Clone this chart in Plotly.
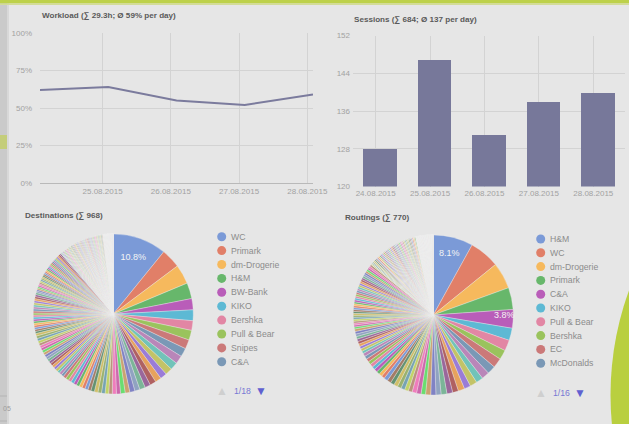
import plotly.graph_objects as go

W, H = 629, 424

# ---- daily series (data points are stamped 02:00 local time) ----
days = ["2015-08-24 02:00", "2015-08-25 02:00", "2015-08-26 02:00",
        "2015-08-27 02:00", "2015-08-28 02:00"]
workload_pct = [62, 64, 55, 52, 59]
workload_ticks = [0, 25, 50, 75, 100]
workload_tick_text = ["0%", "25%", "50%", "75%", "100%"]
sessions = [128, 147, 131, 138, 140]

# ---- destinations (sum 968) ----
dest_names = ["WC", "Primark", "dm-Drogerie", "H&M", "BW-Bank",
              "KIKO", "Bershka", "Pull & Bear", "Snipes", "C&A"]
dest_counts = [
    105, 38, 38, 31, 22, 21, 19, 19, 18, 17,
    16, 15, 14, 13, 12, 12, 11, 11, 10, 10,
    9, 9, 8, 8, 7, 7, 7, 7, 7, 7,
    6, 6, 6, 6, 6, 6, 6, 6, 6, 6,
    5, 5, 5, 5, 5, 5, 5, 5, 5, 5,
    5, 5, 5, 5, 5, 5, 5, 5, 5, 5,
    4, 4, 4, 4, 4, 4, 4, 4, 4, 4,
    4, 4, 4, 4, 4, 4, 4, 4, 4, 4,
    3, 3, 3, 3, 3, 3, 3, 3, 3, 3,
    3, 3, 3, 3, 3, 3, 3, 3, 3, 3,
    3, 3, 3, 3, 3, 3, 3, 3, 3, 3,
    2, 2, 2, 2, 2, 2, 2, 2, 2, 2,
    2, 2, 2, 2, 2, 2, 2, 2, 2, 2,
    2, 2, 2, 2, 2, 2, 2, 2, 2, 2,
    2, 2, 2, 2, 2, 2, 2, 2, 2, 2,
    2, 2, 2, 2, 2, 1, 1, 1, 1, 1,
    1, 1, 1, 1, 1, 1, 1, 1, 1, 1,
    1, 1, 1, 1, 1,
]
dest_pages = "1/18"

# ---- routings (sum 770) ----
route_names = ["H&M", "WC", "dm-Drogerie", "Primark", "C&A",
               "KIKO", "Pull & Bear", "Bershka", "EC", "McDonalds"]
route_counts = [
    62, 47, 41, 34, 29, 19, 17, 15, 15, 13,
    12, 11, 11, 10, 10, 9, 9, 9, 8, 8,
    8, 7, 7, 7, 6, 6, 6, 6, 6, 6,
    6, 6, 5, 5, 5, 5, 5, 5, 5, 5,
    5, 5, 4, 4, 4, 4, 4, 4, 4, 4,
    4, 4, 3, 3, 3, 3, 3, 3, 3, 3,
    3, 3, 3, 3, 3, 3, 3, 3, 3, 3,
    3, 3, 3, 3, 3, 3, 3, 3, 3, 3,
    3, 3, 3, 3, 3, 3, 3, 2, 2, 2,
    2, 2, 2, 2, 2, 2, 2, 2, 2, 2,
    2, 2, 2, 2, 2, 2, 2, 2, 2, 2,
    2, 2, 2, 2, 2, 2, 2, 2, 2, 2,
    2, 2, 2, 2, 2, 2, 2, 2, 1, 1,
    1, 1, 1, 1, 1, 1, 1, 1, 1, 1,
    1, 1, 1, 1, 1, 1, 1, 1, 1, 1,
    1, 1, 1, 1, 1,
]
route_pages = "1/16"

# washed-out chart palette
PALETTE = ["#7b9ad7", "#e17f68", "#f6b95d", "#67b76b", "#b95db9", "#5db9d4",
           "#e286a4", "#9ac35d", "#cb7979", "#7a98b6", "#b986b9", "#71c3b9",
           "#c3c367", "#9a7cd7", "#e7a25d", "#b06161", "#9a679b", "#7bb598",
           "#90a3c1", "#8082c4", "#cba271", "#6add70", "#cc68ac", "#ef7dbc",
           "#bb927d", "#c2d368", "#76a4b2", "#9ab26e", "#cfbf68", "#649271",
           "#a37c67"]

BG = "#e6e6e6"
GRID = "#d3d3d3"
TICK = "#a2a2a2"
FONT = "Liberation Sans, Arial, DejaVu Sans, sans-serif"
DAY_MS = 86400000
BORDER_BY_COUNT = {1: 1.3, 2: 0.75}


def px(x):
    return x / W


def py(y):
    return 1 - y / H


fig = go.Figure()

# workload line
fig.add_trace(go.Scatter(
    x=days, y=workload_pct, mode="lines",
    line=dict(color="#7b7b9d", width=2),
    xaxis="x", yaxis="y", showlegend=False, hoverinfo="x+y"))

# sessions bars
fig.add_trace(go.Bar(
    x=days, y=sessions, marker=dict(color="#77789a", line=dict(width=0)),
    width=0.62 * DAY_MS, xaxis="x2", yaxis="y2", showlegend=False))


def pie(values, labelled, cx, cy, r):
    n = len(values)
    # hairline borders on real slices; the one- and two-count slivers wash
    # out into the light border colour
    widths = [BORDER_BY_COUNT.get(v, 0.35) for v in values]
    return go.Pie(
        values=values, sort=False, direction="clockwise", rotation=0,
        domain=dict(x=[px(cx - r), px(cx + r)], y=[py(cy + r), py(cy - r)]),
        marker=dict(colors=[PALETTE[i % len(PALETTE)] for i in range(n)],
                    line=dict(color="#ededed", width=widths)),
        texttemplate=["%{percent:.1%}" if i in labelled else "" for i in range(n)],
        textposition="inside", insidetextorientation="horizontal",
        textfont=dict(color="#f4f4f4", size=9, family=FONT),
        showlegend=False, hoverinfo="value+percent")


fig.add_trace(pie(dest_counts, {0}, 113.3, 314, 80))
fig.add_trace(pie(route_counts, {0, 4}, 433.3, 315, 80))

date_axis = dict(type="date", tick0="2015-08-24", dtick=DAY_MS,
                 tickformat="%d.%m.%Y", showgrid=True, gridcolor=GRID,
                 gridwidth=1, zeroline=False, ticks="", automargin=False,
                 tickfont=dict(size=8, color=TICK, family=FONT),
                 fixedrange=True)

fig.update_layout(
    template="none",
    width=W, height=H, margin=dict(l=0, r=0, t=0, b=0, pad=0),
    paper_bgcolor=BG, plot_bgcolor="rgba(0,0,0,0)",
    font=dict(family=FONT),
    bargap=0,
    uniformtext=dict(minsize=9, mode="show"),
    xaxis=dict(date_axis, domain=[px(40), px(313)],
               range=[days[0], days[-1]], anchor="y",
               showline=True, linecolor="#b9b9b9", linewidth=1),
    yaxis=dict(domain=[py(183), py(33)], range=[0, 100],
               tickvals=workload_ticks, ticktext=workload_tick_text,
               showgrid=True, gridcolor=GRID, zeroline=False, ticks="",
               showline=False, ticklabelstandoff=7, automargin=False,
               tickfont=dict(size=8, color=TICK, family=FONT),
               anchor="x", fixedrange=True),
    xaxis2=dict(date_axis, domain=[px(353), px(625)],
                range=["2015-08-23 14:00", "2015-08-28 14:00"], anchor="y2",
                showline=False),
    yaxis2=dict(domain=[py(186.5), py(35.5)], range=[120, 152], dtick=8,
                tick0=120, showgrid=True, gridcolor=GRID, zeroline=False,
                ticks="", showline=False, ticklabelstandoff=2, automargin=False,
                tickfont=dict(size=8, color=TICK, family=FONT),
                anchor="x2", fixedrange=True),
)


def box(x0, x1, y0, y1, color, kind="rect", layer="below"):
    return dict(type=kind, xref="paper", yref="paper",
                x0=px(x0), x1=px(x1), y0=py(y1), y1=py(y0),
                fillcolor=color, line=dict(width=0), layer=layer)


shapes = [
    # left sidebar strip and its highlight
    box(0, 7, 0, 424, "#cacaca"),
    box(7, 9, 0, 424, "#d8d8d8"),
    box(0, 7, 135, 149, "#c4cd7a"),
    box(0, 7, 395.5, 396.5, "#b5b5b5"),
    box(0, 7, 420.5, 421.5, "#b5b5b5"),
    # green header stripe
    box(0, 629, 0, 3.5, "#bdd14a"),
    box(0, 629, 3.5, 5, "#d3dc98"),
    # green disc in the lower right corner
    box(610.5, 1219.5, 90.5, 699.5, "#b9cf3f", kind="circle"),
]

annotations = []


def label(x, y, text, size=9, color="#888888", anchor="left", bold=False):
    annotations.append(dict(
        x=px(x), y=py(y), xref="paper", yref="paper", text=text,
        showarrow=False, xanchor=anchor, yanchor="middle",
        font=dict(size=size, color=color, family=FONT,
                  weight="bold" if bold else "normal")))


TITLE = "#5a5a5a"
label(40, 15.7, "Workload (∑ 29.3h; Ø 59% per day)", size=8.1, color=TITLE, bold=True)
label(351.7, 19.3, "Sessions (∑ 684; Ø 137 per day)", size=8.1, color=TITLE, bold=True)
label(22.7, 215.3, "Destinations (∑ 968)", size=8.1, color=TITLE, bold=True)
label(342.7, 217.3, "Routings (∑ 770)", size=8.1, color=TITLE, bold=True)
# edge of the page behind the dashboard
label(0.5, 408, "05", size=7, color="#9c9c9c", anchor="left")


def legend(names, cx, y0, step, pages, pager_y):
    for i, name in enumerate(names):
        y = y0 + step * i
        shapes.append(box(cx - 4.5, cx + 4.5, y - 4.5, y + 4.5, PALETTE[i],
                          kind="circle", layer="above"))
        label(cx + 7.5, y, name, size=8.7, color="#8c8c8c")
    label(cx, pager_y, "▲", size=12, color="#cfcfcf", anchor="center")
    label(cx + 10.5, pager_y, pages, size=8.7, color="#7878d4")
    label(cx + 39, pager_y, "▼", size=12, color="#6060d0", anchor="center")


legend(dest_names, 221.7, 236.7, 13.9, dest_pages, 391)
legend(route_names, 540.7, 239, 13.8, route_pages, 393)

fig.update_layout(shapes=shapes, annotations=annotations)

fig.write_html("out.html")
